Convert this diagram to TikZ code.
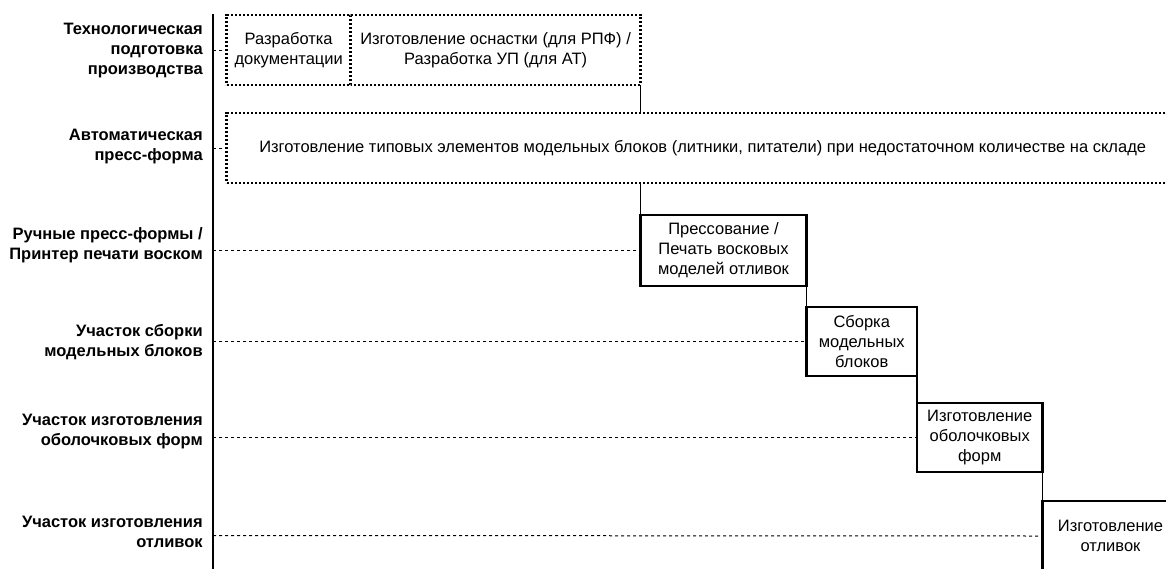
\documentclass[tikz,border=0pt]{standalone}
\usepackage{fontspec}
\setmainfont{Liberation Sans}
\begin{document}
\begin{tikzpicture}[x=1pt,y=-1pt,
  every node/.style={font=\fontsize{16.5}{20}\selectfont, inner sep=0pt, outer sep=0pt, align=center},
  lanelabel/.style={anchor=east, align=right, font=\fontsize{16.5}{20}\selectfont\bfseries},
  dotline/.style={line width=2.5pt, dash pattern=on 2.2pt off 1.8pt},
  dotbox/.style={draw, dotline, anchor=north west},
  plainbox/.style={anchor=north west},
  solidbox/.style={draw, line width=2.2pt, anchor=north west},
  lane/.style={line width=1pt, dash pattern=on 3pt off 3pt},
  link/.style={line width=1.1pt},
  axisline/.style={line width=1.3pt}
]
\useasboundingbox (0,0) rectangle (1166,568);
\clip (0,0) rectangle (1166,568);
\fill[white] (0,0) rectangle (1166,568);

% axis
\coordinate (axtop) at (213,14);
\coordinate (axbot) at (213,570);
\draw[axisline] (axtop) -- (axbot);

% lane points on axis
\coordinate (a1) at (213,50);
\coordinate (a2) at (213,148);
\coordinate (a3) at (213,250.5);
\coordinate (a4) at (213,341.5);
\coordinate (a5) at (213,437.5);
\coordinate (a6) at (213,535.5);

% lane labels
\node[lanelabel] (l1) at (202.7,51) {Технологическая\\подготовка\\производства};
\node[lanelabel] (l2) at (202.7,147) {Автоматическая\\пресс-форма};
\node[lanelabel] (l3) at (202.7,245) {Ручные пресс-формы /\\Принтер печати воском};
\node[lanelabel] (l4) at (202.7,342) {Участок сборки\\модельных блоков};
\node[lanelabel] (l5) at (202.7,432) {Участок изготовления\\оболочковых форм};
\node[lanelabel] (l6) at (202.7,532) {Участок изготовления\\отливок};

% boxes
\node[dotbox, minimum width=124pt, minimum height=70pt] (b1) at (226.7,15)
  {Разработка\\документации};
\node[plainbox, minimum width=289.8pt, minimum height=70pt] (b2) at (350.7,15)
  {Изготовление оснастки (для РПФ) /\\Разработка УП (для АТ)};
\draw[dotline] (b1.north east) -- (b2.north east) -- (b2.south east) -- (b1.south east);
\node[dotbox, minimum width=952pt, minimum height=70pt] (b3) at (226.7,113)
  {Изготовление типовых элементов модельных блоков (литники, питатели) при недостаточном количестве на складе};
\node[solidbox, minimum width=166pt, minimum height=71pt] (b4) at (640.5,215)
  {Прессование /\\Печать восковых\\моделей отливок};
\node[solidbox, minimum width=110.5pt, minimum height=69pt] (b5) at (806.5,307)
  {Сборка\\модельных\\блоков};
\node[solidbox, minimum width=125.5pt, minimum height=69pt] (b6) at (917,403)
  {Изготовление\\оболочковых\\форм};
\node[solidbox, minimum width=136pt, minimum height=70pt] (b7) at (1042.5,501)
  {Изготовление\\отливок};

% lane connectors
\draw[lane] (a1) -- (b1.west);
\draw[lane] (a2) -- (b3.west);
\draw[lane] (a3) -- (b4.west);
\draw[lane] (a4) -- (b5.west);
\draw[lane] (a5) -- (b6.west);
\draw[lane] (a6) -- (b7.west);

% step connectors
\draw[link] (b2.south east) -- (b2.south east |- b3.north);
\draw[link] (b4.north west |- b3.south) -- (b4.north west);
\draw[link] (b4.south east) -- (b5.north west);
\draw[link] (b5.south east) -- (b6.north west);
\draw[link] (b6.south east) -- (b7.north west);
\end{tikzpicture}
\end{document}
